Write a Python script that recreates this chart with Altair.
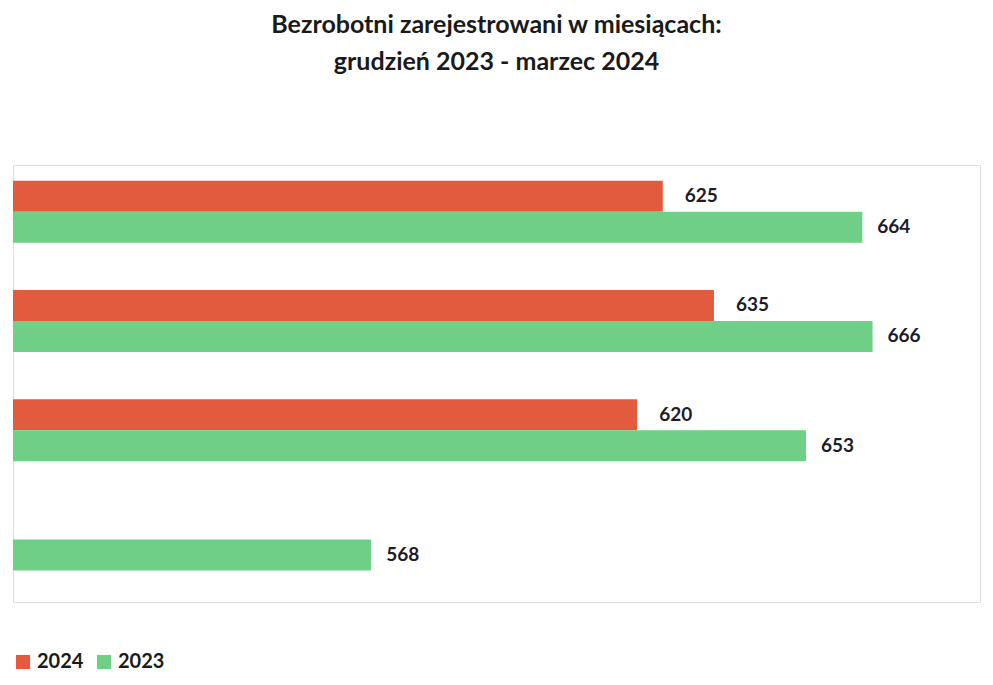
import altair as alt
import pandas as pd

months = ["Marzec", "Luty", "Styczeń", "Grudzień"]
years = ["2024", "2023"]
months_2024 = ["Marzec", "Luty", "Styczeń"]
values_2024 = [625, 635, 620]
values_2023 = [664, 666, 653, 568]
colors = ["#e35b3f", "#6fcf86"]

df24 = pd.DataFrame({"miesiac": months_2024, "rok": ["2024"] * 3, "wartosc": values_2024})
df23 = pd.DataFrame({"miesiac": months, "rok": ["2023"] * 4, "wartosc": values_2023})

FONT = "Lato"
xscale = alt.Scale(domain=[498, 687], nice=False, zero=False)
yscale = alt.Scale(domain=months, paddingInner=0, paddingOuter=0)
color_scale = alt.Scale(domain=years, range=colors)


def layer_for(df, shift, dx, show_axis):
    if show_axis:
        y_enc = alt.Y("miesiac:N", scale=yscale, title=None,
                      axis=alt.Axis(labelFontSize=19, labelFontWeight="bold", labelFont=FONT,
                                    labelColor="#1a1a1a", domainColor="#9aa8b8", ticks=False,
                                    labelPadding=32, minExtent=162))
    else:
        y_enc = alt.Y("miesiac:N", scale=yscale, title=None, axis=None)
    bars = alt.Chart(df).mark_bar(height=31, yOffset=shift, clip=True).encode(
        x=alt.X("wartosc:Q", scale=xscale, axis=None),
        y=y_enc,
        color=alt.Color("rok:N", scale=color_scale,
                        legend=alt.Legend(title=None, orient="bottom", labelFontSize=20,
                                          labelFontWeight="bold", labelFont=FONT,
                                          labelColor="#1a1a1a",
                                          symbolType="square", symbolSize=200, offset=50)),
    )
    text = alt.Chart(df).mark_text(align="left", baseline="middle", dx=dx, yOffset=shift,
                                   fontSize=19, fontWeight="bold", font=FONT,
                                   color="#1c1c2c").encode(
        x=alt.X("wartosc:Q", scale=xscale, axis=None),
        y=alt.Y("miesiac:N", scale=yscale, title=None, axis=None),
        text="wartosc:Q",
    )
    return bars, text


b24, t24 = layer_for(df24, -23.5, 22, True)
b23, t23 = layer_for(df23, 7.5, 15, False)

chart = alt.layer(b24, b23, t24, t23).properties(
    width=977,
    height=669,
    autosize=alt.AutoSizeParams(type="fit", contains="padding"),
    title=alt.TitleParams(
        text="Bezrobotni zarejestrowani w miesiącach:",
        subtitle="grudzień 2023 - marzec 2024",
        fontSize=25, fontWeight="bold", font=FONT, color="#1a1a1a",
        subtitleFontSize=25, subtitleFontWeight="bold", subtitleFont=FONT,
        subtitleColor="#1a1a1a", subtitlePadding=12, anchor="middle", offset=90,
    ),
)

chart.save("out.html", embed_options={"renderer": "svg", "actions": False})
